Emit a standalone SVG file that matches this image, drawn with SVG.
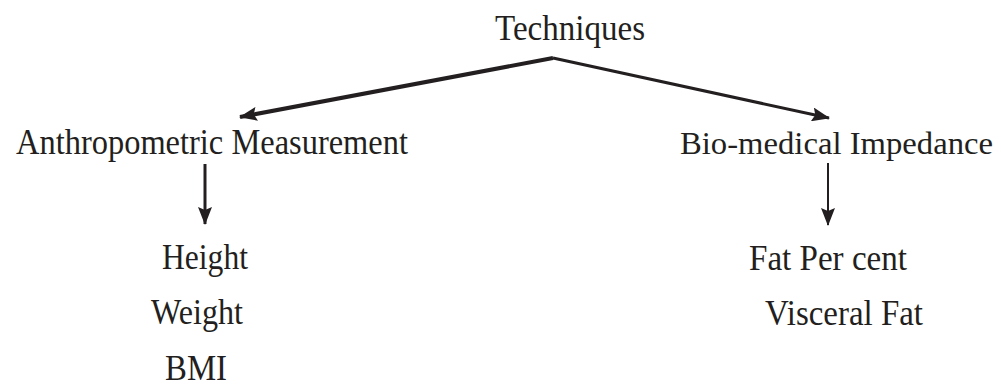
<svg xmlns="http://www.w3.org/2000/svg" width="1001" height="388" viewBox="0 0 1001 388">
<style>
text{font-family:"Liberation Serif","Times New Roman",serif;font-size:35px;fill:#231f20}
.c{stroke:#231f20;fill:none;stroke-linecap:butt}
</style>
<defs>
<marker id="ah" viewBox="0 0 18 14" refX="17" refY="7" markerWidth="18" markerHeight="14" markerUnits="userSpaceOnUse" orient="auto">
<path d="M0,0 L18,7 L0,14 L3,7 z" fill="#231f20"/>
</marker>
</defs>
<rect width="1001" height="388" fill="#ffffff"/>
<g id="connectors">
<line class="c" x1="553" y1="58" x2="240" y2="117" stroke-width="4" marker-end="url(#ah)"/>
<line class="c" x1="553" y1="58" x2="829" y2="118" stroke-width="3" marker-end="url(#ah)"/>
<line class="c" x1="205" y1="164" x2="205" y2="224" stroke-width="3" marker-end="url(#ah)"/>
<line class="c" x1="828" y1="163" x2="828" y2="225" stroke-width="2" marker-end="url(#ah)"/>
</g>
<g id="techniques"><text x="495" y="40" textLength="150" lengthAdjust="spacingAndGlyphs">Techniques</text></g>
<g id="anthropometric"><text x="16" y="154" textLength="392" lengthAdjust="spacingAndGlyphs">Anthropometric Measurement</text></g>
<g id="bioimpedance"><text x="680" y="154" style="font-size:32px" textLength="313" lengthAdjust="spacingAndGlyphs">Bio-medical Impedance</text></g>
<g id="height"><text x="162" y="269" textLength="86" lengthAdjust="spacingAndGlyphs">Height</text></g>
<g id="weight"><text x="151" y="324" textLength="92" lengthAdjust="spacingAndGlyphs">Weight</text></g>
<g id="bmi"><text x="165" y="380" textLength="62" lengthAdjust="spacingAndGlyphs">BMI</text></g>
<g id="fat-percent"><text x="749" y="270" textLength="158" lengthAdjust="spacingAndGlyphs">Fat Per cent</text></g>
<g id="visceral-fat"><text x="765" y="325" textLength="158" lengthAdjust="spacingAndGlyphs">Visceral Fat</text></g>
</svg>
